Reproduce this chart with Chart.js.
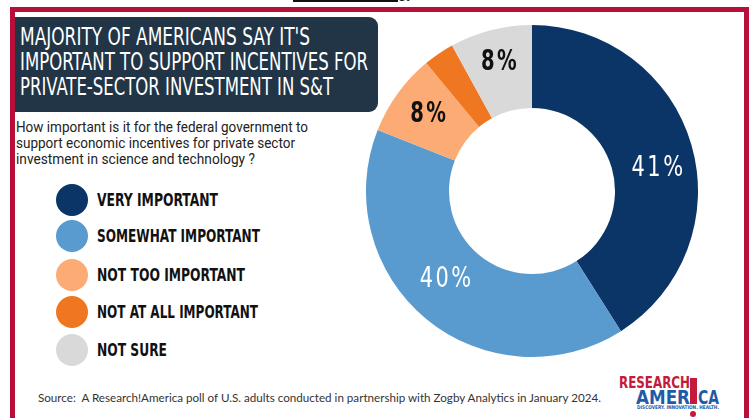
<!DOCTYPE html>
<html>
<head>
<meta charset="utf-8">
<script src="https://cdn.jsdelivr.net/npm/chart.js@4.4.1/dist/chart.umd.min.js"></script>
<style>
  html,body{margin:0;padding:0;background:#fff;width:754px;height:418px;overflow:hidden;position:relative;font-family:Roboto,"Noto Sans",sans-serif;}
  .abs{position:absolute;white-space:nowrap;}
  #topbar{left:293px;top:0;width:105px;height:2px;background:#111;}
  #frame{left:10px;top:7px;width:729px;height:440px;border:5px solid #b70f3a;border-bottom:none;}
  #titlebox{left:15px;top:17px;width:363px;height:95px;background:#213547;border-radius:0 9px 9px 0;}
  .tl{color:#fff;font-family:"Liberation Sans Narrow","DejaVu Sans Condensed",sans-serif;font-size:24px;line-height:24px;transform-origin:0 0;}
  .q{color:#222;font-family:Roboto,sans-serif;font-size:14px;line-height:16px;transform-origin:0 0;}
  .lg-dot{width:32px;height:32px;border-radius:50%;}
  .lg-txt{color:#111;font-family:"DejaVu Sans Condensed","Liberation Sans Narrow",sans-serif;font-weight:bold;font-size:18px;line-height:20px;transform-origin:0 0;}
  #src{left:38px;top:391px;color:#333;font-family:Lato,sans-serif;font-size:12px;line-height:14px;transform-origin:0 0;}
  #chartwrap{left:366px;top:25px;width:332px;height:332px;}
  .logo{font-family:"Liberation Sans Narrow","DejaVu Sans Condensed",sans-serif;font-weight:bold;transform-origin:0 0;}
  #topclip{left:398px;top:0;width:45px;height:3px;overflow:hidden;}
</style>
</head>
<body>
<div id="topbar" class="abs"></div>
<div id="topclip" class="abs"><div class="abs" style="left:0;top:-14px;font-family:Roboto,sans-serif;font-size:15px;line-height:15px;color:#111">gy?</div></div>
<div id="frame" class="abs"></div>
<div id="titlebox" class="abs"></div>
<div class="abs tl" style="left:20px;top:25px" data-fit="290">MAJORITY OF AMERICANS SAY IT'S</div>
<div class="abs tl" style="left:20px;top:50px" data-fit="348">IMPORTANT TO SUPPORT INCENTIVES FOR</div>
<div class="abs tl" style="left:20px;top:75px" data-fit="313">PRIVATE-SECTOR INVESTMENT IN S&amp;T</div>

<div class="abs q" style="left:16px;top:119px" data-fit="292">How important is it for the federal government to</div>
<div class="abs q" style="left:16px;top:135px" data-fit="279">support economic incentives for private sector</div>
<div class="abs q" style="left:16px;top:151px" data-fit="239">investment in science and technology ?</div>

<div id="legend"></div>

<div id="src" class="abs" data-fit="563">Source:&nbsp; A Research!America poll of U.S. adults conducted in partnership with Zogby Analytics in January 2024.</div>

<div class="abs logo" style="left:619px;top:376px;color:#c41a3c;font-size:15px;line-height:14px" data-fit="71">RESEARCH</div>
<div class="abs logo" style="left:636px;top:388px;color:#1f5ba8;font-size:20px;line-height:18px" data-fit="54">AMER</div>
<div class="abs" style="left:690px;top:378px;width:7px;height:26px;background:#c41a3c"></div>
<div class="abs logo" style="left:698px;top:388px;color:#1f5ba8;font-size:20px;line-height:18px" data-fit="21">CA</div>
<div class="abs logo" style="left:637px;top:405px;color:#1f5ba8;font-size:5px;line-height:5px" data-fit="82">DISCOVERY. INNOVATION. HEALTH.</div>
<div class="abs" style="left:690px;top:411px;width:6px;height:6px;border-radius:50%;background:#c41a3c"></div>

<div id="chartwrap" class="abs"><canvas id="c" width="332" height="332"></canvas></div>

<script>
const categories = ["VERY IMPORTANT","SOMEWHAT IMPORTANT","NOT TOO IMPORTANT","NOT AT ALL IMPORTANT","NOT SURE"];
const values = [41, 40, 8, 3, 8];
const valueLabels = ["41%", "40%", "8%", "", "8%"];
const colors = ["#0b3566", "#5a9bcf", "#fdab74", "#ef7722", "#d9d9d9"];
const labelColors = ["#ffffff", "#ffffff", "#111111", "#111111", "#111111"];

// HTML legend built from categories and colors
const legendYs = [200, 236, 275, 312, 350];
const lg = document.getElementById('legend');
categories.forEach((c, i) => {
  const d = document.createElement('div');
  d.className = 'abs lg-dot';
  d.style.left = '56px'; d.style.top = (legendYs[i] - 16) + 'px';
  d.style.background = colors[i];
  lg.appendChild(d);
  const t = document.createElement('div');
  t.className = 'abs lg-txt';
  t.style.left = '97px'; t.style.top = (legendYs[i] - 10) + 'px';
  t.textContent = c;
  lg.appendChild(t);
});
const legendWidths = [121, 163, 148, 161, 70];
document.querySelectorAll('.lg-txt').forEach((el, i) => el.dataset.fit = legendWidths[i]);

document.querySelectorAll('[data-fit]').forEach(el => {
  const w = el.getBoundingClientRect().width;
  const target = parseFloat(el.dataset.fit);
  if (w > 0) el.style.transform = 'scaleX(' + (target / w) + ')';
});

const labelPlugin = {
  id: 'pctLabels',
  afterDatasetsDraw(chart, args, opts) {
    const ctx = chart.ctx;
    const meta = chart.getDatasetMeta(0);
    meta.data.forEach((arc, i) => {
      const txt = valueLabels[i];
      if (!txt) return;
      const p = arc.getCenterPoint();
      const off = opts.offsets[i] || [0, 0];
      ctx.save();
      ctx.font = (i < 2 ? '500 ' : 'bold ') + '28px "DejaVu Sans Condensed", "Liberation Sans Narrow", sans-serif';
      ctx.fillStyle = labelColors[i];
      ctx.textAlign = 'center';
      ctx.textBaseline = 'middle';
      if ('letterSpacing' in ctx) ctx.letterSpacing = '3px';
      ctx.fillText(txt, p.x + off[0], p.y + off[1], txt.length > 2 ? 54 : 38);
      ctx.restore();
    });
  }
};

new Chart(document.getElementById('c'), {
  type: 'doughnut',
  data: {
    labels: categories,
    datasets: [{ data: values, backgroundColor: colors, borderWidth: 0 }]
  },
  options: {
    responsive: false,
    animation: false,
    cutout: '50%',
    layout: { padding: 0 },
    plugins: {
      legend: { display: false },
      tooltip: { enabled: false },
      pctLabels: { offsets: [[7, 12], [-6, -7], [-2, -3], [0, 0], [-1, -8]] }
    }
  },
  plugins: [labelPlugin]
});
</script>
</body>
</html>
